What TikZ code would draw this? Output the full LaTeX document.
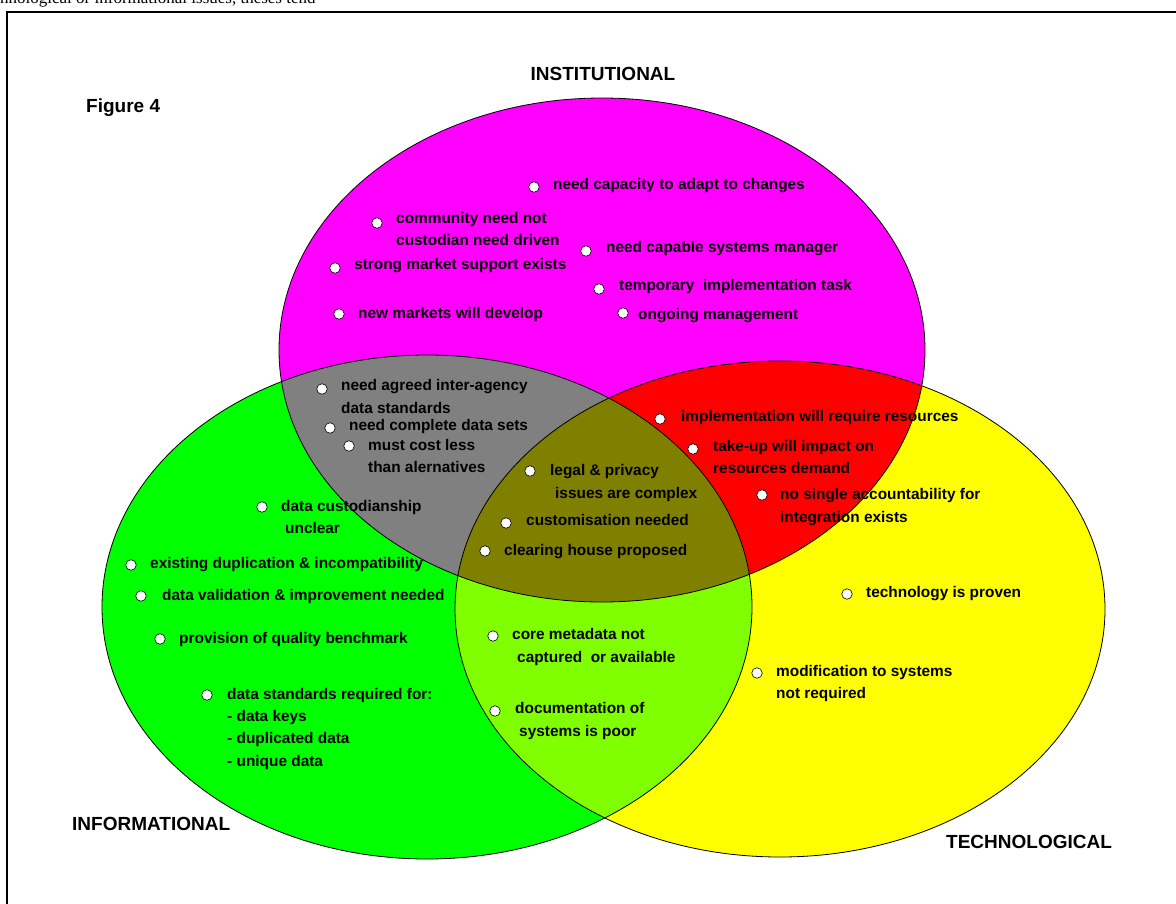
\documentclass[tikz,border=0pt]{standalone}
\usepackage{fontspec}
\setmainfont{Liberation Sans}
\newfontfamily\bodyserif{Liberation Serif}
\definecolor{instcol}{RGB}{255,0,255}
\definecolor{infocol}{RGB}{0,255,0}
\definecolor{techcol}{RGB}{255,255,0}
\definecolor{greycol}{RGB}{128,128,128}
\definecolor{redcol}{RGB}{255,0,0}
\definecolor{olivecol}{RGB}{128,128,0}
\definecolor{limecol}{RGB}{128,255,0}
\begin{document}
\begin{tikzpicture}[x=1pt,y=-1pt,
    dot/.style={circle,draw,fill=white,inner sep=0pt,minimum size=10.5pt,line width=0.6pt},
    issue/.style={anchor=base west,inner sep=0pt,font=\fontsize{15.4}{18}\selectfont\bfseries},
    heading/.style={anchor=base west,inner sep=0pt,font=\fontsize{19}{22}\selectfont\bfseries}]
\useasboundingbox (0,0) rectangle (1176,903);
% text of the page above the figure
\node[anchor=base west,inner sep=0pt,font=\bodyserif\fontsize{17}{20}\selectfont] (para) at (0,3) {nnological or informational issues, theses tend};
\draw[line width=2pt] (7,1000) -- (7,12) -- (1200,12);

% the three sets
\fill[instcol] (602,350) ellipse [x radius=323pt, y radius=252pt];
\fill[infocol] (427,607) ellipse [x radius=325pt, y radius=252pt];
\fill[techcol] (780,609) ellipse [x radius=325pt, y radius=248pt];
\begin{scope}
  \clip (602,350) ellipse [x radius=323pt, y radius=252pt];
  \fill[greycol] (427,607) ellipse [x radius=325pt, y radius=252pt];
  \fill[redcol] (780,609) ellipse [x radius=325pt, y radius=248pt];
\end{scope}
\begin{scope}
  \clip (427,607) ellipse [x radius=325pt, y radius=252pt];
  \fill[limecol] (780,609) ellipse [x radius=325pt, y radius=248pt];
\end{scope}
\begin{scope}
  \clip (602,350) ellipse [x radius=323pt, y radius=252pt];
  \clip (427,607) ellipse [x radius=325pt, y radius=252pt];
  \fill[olivecol] (780,609) ellipse [x radius=325pt, y radius=248pt];
\end{scope}
\draw[line width=0.8pt] (602,350) ellipse [x radius=323pt, y radius=252pt];
\draw[line width=0.8pt] (427,607) ellipse [x radius=325pt, y radius=252pt];
\draw[line width=0.8pt] (780,609) ellipse [x radius=325pt, y radius=248pt];

% headings
\node[heading,anchor=base] (insthead) at (603,80) {INSTITUTIONAL};
\node[heading] (fighead) at (86,112) {Figure 4};
\node[heading] (infohead) at (72,830) {INFORMATIONAL};
\node[heading] (techhead) at (946,848) {TECHNOLOGICAL};

% institutional
\node[dot] (bi1) at (534,187) {};
\node[issue] (ti1) at (553,189) {need capacity to adapt to changes};
\node[dot] (bi2) at (377,223) {};
\node[issue] (ti2) at (396,223) {community need not};
\node[issue] (ti2b) at (396,245) {custodian need driven};
\node[dot] (bi3) at (586,251) {};
\node[issue] (ti3) at (606,252) {need capable systems manager};
\node[dot] (bi4) at (335,268) {};
\node[issue] (ti4) at (354,269) {strong market support exists};
\node[dot] (bi5) at (599,289) {};
\node[issue] (ti5) at (619,290) {temporary\ \ implementation task};
\node[dot] (bi6) at (339,314) {};
\node[issue] (ti6) at (358,318) {new markets will develop};
\node[dot] (bi7) at (623,313) {};
\node[issue] (ti7) at (638,319) {ongoing management};

% institutional + informational
\node[dot] (bg1) at (322,389) {};
\node[issue] (tg1) at (341,390) {need agreed inter-agency};
\node[issue] (tg1b) at (341,413) {data standards};
\node[dot] (bg2) at (330,428) {};
\node[issue] (tg2) at (349,430) {need complete data sets};
\node[dot] (bg3) at (349,446) {};
\node[issue] (tg3) at (368,450) {must cost less};
\node[issue] (tg3b) at (368,472) {than alernatives};

% all three
\node[dot] (bo1) at (530,471) {};
\node[issue] (to1) at (550,475) {legal \& privacy};
\node[issue] (to1b) at (555,498) {issues are complex};
\node[dot] (bo2) at (506,523) {};
\node[issue] (to2) at (526,525) {customisation needed};
\node[dot] (bo3) at (485,551) {};
\node[issue] (to3) at (504,555) {clearing house proposed};

% institutional + technological
\node[dot] (br1) at (660,419) {};
\node[issue] (tr1) at (681,421) {implementation will require resources};
\node[dot] (br2) at (693,449) {};
\node[issue] (tr2) at (713,451) {take-up will impact on};
\node[issue] (tr2b) at (713,473) {resources demand};
\node[dot] (br3) at (762,495) {};
\node[issue] (tr3) at (780,499) {no single accountability for};
\node[issue] (tr3b) at (780,522) {integration exists};

% informational
\node[dot] (bf1) at (262,507) {};
\node[issue] (tf1) at (281,511) {data custodianship};
\node[issue] (tf1b) at (285,533) {unclear};
\node[dot] (bf2) at (131,565) {};
\node[issue] (tf2) at (150,568) {existing duplication \& incompatibility};
\node[dot] (bf3) at (141,596) {};
\node[issue] (tf3) at (162,600) {data validation \& improvement needed};
\node[dot] (bf4) at (160,639) {};
\node[issue] (tf4) at (179,643) {provision of quality benchmark};
\node[dot] (bf5) at (207,695) {};
\node[issue] (tf5) at (227,699) {data standards required for:};
\node[issue] (tf5b) at (227,721) {- data keys};
\node[issue] (tf5c) at (227,743) {- duplicated data};
\node[issue] (tf5d) at (227,766) {- unique data};

% informational + technological
\node[dot] (bl1) at (493,636) {};
\node[issue] (tl1) at (512,639) {core metadata not};
\node[issue] (tl1b) at (517,662) {captured\ \ or available};
\node[dot] (bl2) at (495,711) {};
\node[issue] (tl2) at (515,713) {documentation of};
\node[issue] (tl2b) at (519,736) {systems is poor};

% technological
\node[dot] (bt1) at (847,594) {};
\node[issue] (tt1) at (866,597) {technology is proven};
\node[dot] (bt2) at (757,673) {};
\node[issue] (tt2) at (776,676) {modification to systems};
\node[issue] (tt2b) at (776,698) {not required};
\end{tikzpicture}
\end{document}
